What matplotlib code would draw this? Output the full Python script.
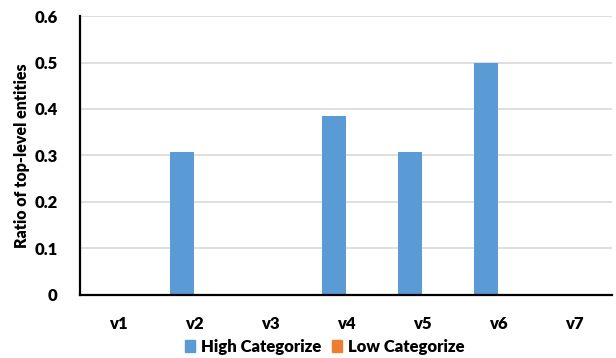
import numpy as np
import matplotlib.pyplot as plt
from matplotlib.patches import Patch

# Datos
categorias = ['v1', 'v2', 'v3', 'v4', 'v5', 'v6', 'v7']
alta = [0, 4 / 13, 0, 5 / 13, 4 / 13, 0.5, 0]
baja = [0, 0, 0, 0, 0, 0, 0]
ticks_y = [0, 0.1, 0.2, 0.3, 0.4, 0.5, 0.6]
etiquetas_y = ['0', '0.1', '0.2', '0.3', '0.4', '0.5', '0.6']

AZUL = '#5b9bd5'
NARANJA = '#ed7d31'

plt.rcParams['font.family'] = ['Lato', 'DejaVu Sans']
plt.rcParams['font.weight'] = 'bold'

fig = plt.figure(figsize=(6.16, 3.58), dpi=100)
ax = fig.add_axes([0.1299, 0.176, 0.8636, 0.7793])

x = np.arange(len(categorias))
ancho = 0.316
ax.bar(x - ancho / 2, alta, ancho, color=AZUL, zorder=3)
ax.bar(x + ancho / 2, baja, ancho, color=NARANJA, zorder=3)

ax.set_xlim(-0.5, len(categorias) - 0.5)
ax.set_ylim(0, 0.6)
ax.set_yticks(ticks_y)
ax.set_yticklabels(etiquetas_y, fontsize=12, fontweight='heavy')
ax.set_xticks(x)
ax.set_xticklabels(categorias, fontsize=12, fontweight='heavy')
ax.tick_params(axis='both', length=0)
ax.tick_params(axis='x', pad=15)
ax.tick_params(axis='y', pad=16)

ax.grid(axis='y', color='#d9d9d9', linewidth=1.2, zorder=0)
for lado in ['top', 'right']:
    ax.spines[lado].set_visible(False)
for lado in ['left', 'bottom']:
    ax.spines[lado].set_color('black')
    ax.spines[lado].set_linewidth(1.6)
    ax.spines[lado].set_zorder(4)

ax.set_ylabel('Ratio of top-level entities', fontsize=11.5, fontweight='heavy', labelpad=3)

manejadores = [Patch(color=AZUL, label='High Categorize'),
               Patch(color=NARANJA, label='Low Categorize')]
fig.legend(handles=manejadores, loc='center', bbox_to_anchor=(0.527, 0.031), ncol=2,
           frameon=False, handlelength=0.65, handleheight=0.65,
           handletextpad=0.35, columnspacing=0.6, prop={'weight': 'heavy', 'size': 12})

fig.savefig('out.png', dpi=100)
